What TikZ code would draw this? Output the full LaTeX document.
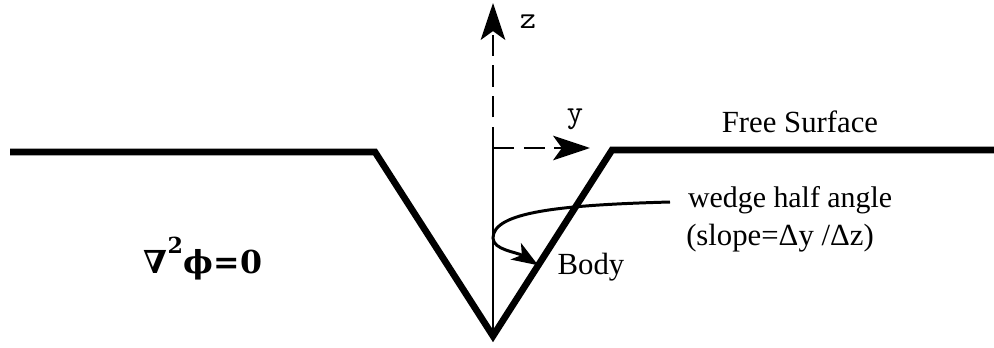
\documentclass[tikz,border=0pt]{standalone}
\usepackage{fontspec}
\setmainfont{Liberation Serif}
\newfontfamily\symfont{DejaVu Serif}
\usetikzlibrary{arrows.meta, positioning, calc}
\tikzset{
    % wedge body and free surface outline
    hull/.style={line width=3.8pt, line join=miter},
    % solid part of the z axis below the surface
    axis/.style={line width=1.5pt},
    % dashed coordinate axes with big heads
    axisarrow/.style={line width=1.5pt, dash pattern=on 12pt off 5.5pt,
        -{Stealth[length=21pt, width=14pt, inset=5pt]}},
    % curved pointer for the half angle
    pointer/.style={line width=1.7pt, -{Stealth[length=15pt, width=11pt, inset=4pt]}},
    % plain text labels
    txt/.style={font=\fontsize{17.5}{20}\selectfont, inner sep=1pt},
    % axis names
    axistxt/.style={font=\ttfamily\fontsize{18}{20}\selectfont, inner sep=1pt},
}

\begin{document}
\begin{tikzpicture}[x=0.02cm, y=-0.02cm]
    \useasboundingbox (0,0) rectangle (994,348);

    % ===== geometry =====
    \coordinate (le) at (10,152);
    \coordinate (lc) at (375,152);
    \coordinate (v)  at (493,336);
    \coordinate (rc) at (612,150);
    \coordinate (re) at (994,150);
    \coordinate (o)  at (493,148);
    \coordinate (ztip) at (493,3);
    \coordinate (ytip) at (590,148);
    \coordinate (hit) at ($(v)!0.38!(rc)$);

    % free surface with the wedge cut into it
    \draw[hull] (le) -- (lc) -- (v) -- (rc) -- (re);

    % axes
    \draw[axis] (v) -- (o);
    \draw[axisarrow] (o) -- (ztip);
    \draw[axisarrow] (o) -- (ytip);
    \node[axistxt] (zlab) at (528,22) {z};
    \node[axistxt] (ylab) at (575,119) {y};

    % labels
    \node[txt] (fs) at (800,122) {Free Surface};
    \node[txt, font=\fontsize{17}{20}\selectfont, anchor=west] (wedge) at (686,200)
        {wedge half angle};
    \node[txt] (slope) at (780,238) {(slope=Δy /Δz)};
    \node[txt] (body) at (591,267) {Body};
    \node[font=\symfont\bfseries\fontsize{18}{22}\selectfont] (lap) at (203,259)
        {∇\raisebox{0.55ex}{\textsuperscript{2}}ϕ=0};

    % half angle pointer
    \coordinate (pstart) at ($(wedge.west)+(-16,2)$);
    \draw[pointer] (pstart) .. controls (560,205) and (493,212) .. (493,238)
        .. controls (493,250) and (517,252) .. (hit);

\end{tikzpicture}
\end{document}
